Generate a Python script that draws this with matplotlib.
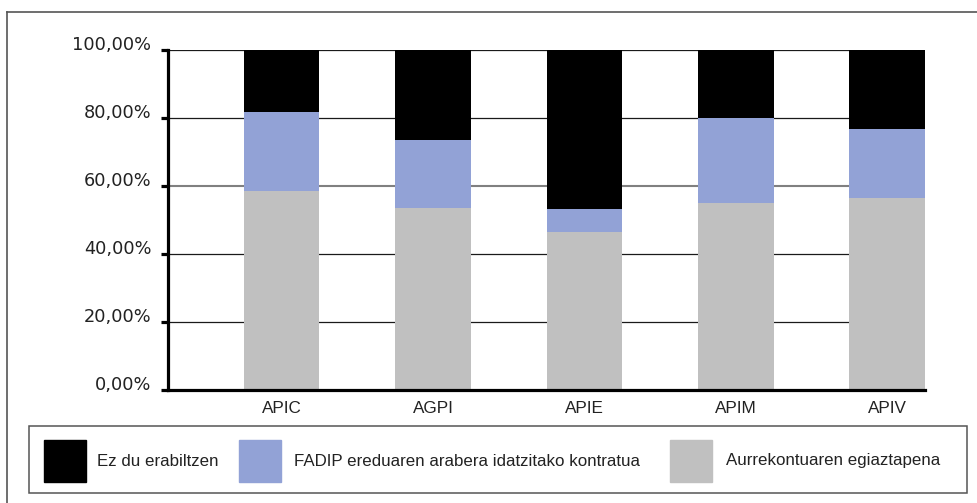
import numpy as np
import matplotlib.pyplot as plt
from matplotlib.patches import Rectangle
from matplotlib.lines import Line2D
from matplotlib.ticker import FuncFormatter

# datuak (irudiaren gainean irakurrita)
categories = ['APIC', 'AGPI', 'APIE', 'APIM', 'APIV']
aurrekontua = np.array([58.4, 53.4, 46.6, 54.9, 56.6])
fadip = np.array([23.4, 20.1, 6.5, 25.0, 20.1])
ez_du = np.array([18.2, 26.5, 46.9, 20.1, 23.3])
names = ['Ez du erabiltzen',
         'FADIP ereduaren arabera idatzitako kontratua',
         'Aurrekontuaren egiaztapena']
colors = ['#000000', '#92a2d6', '#c0c0c0']

W, H = 977, 503
txt_col = '#222222'

def fx(p):
    return p / W

def fy(p):
    return 1 - p / H

fig = plt.figure(figsize=(W / 100, H / 100), dpi=100)
ax = fig.add_axes([fx(168), fy(390), fx(925) - fx(168), fy(50) - fy(390)])

x = np.arange(len(categories))
ax.bar(x, aurrekontua, 0.5, color=colors[2], zorder=3)
ax.bar(x, fadip, 0.5, bottom=aurrekontua, color=colors[1], zorder=3)
ax.bar(x, ez_du, 0.5, bottom=aurrekontua + fadip, color=colors[0], zorder=3)

ax.set_xlim(-0.75, 4.25)
ax.set_ylim(0, 100)
ax.set_yticks(range(0, 101, 20))
ax.yaxis.set_major_formatter(FuncFormatter(lambda v, p: f'{v:.2f}%'.replace('.', ',')))
ax.set_xticks(x)
ax.set_xticklabels(categories, family='Liberation Sans', fontsize=12.3, color=txt_col)

ax.yaxis.grid(True, color='#1a1a1a', lw=0.9, zorder=1)
ax.set_axisbelow(True)
# 60%-ko lerroa grisagoa eta lodiagoa da jatorrizkoan
ax.get_ygridlines()[3].set_color('#808080')
ax.get_ygridlines()[3].set_linewidth(1.5)

for s in ['top', 'right']:
    ax.spines[s].set_visible(False)
for s in ['left', 'bottom']:
    ax.spines[s].set_linewidth(2.3)
    ax.spines[s].set_zorder(4)

ax.tick_params(axis='y', length=5, width=2.3, pad=7, labelsize=12.8, labelcolor=txt_col)
ax.tick_params(axis='x', length=0, pad=8)
for lab in ax.get_yticklabels():
    lab.set_va('baseline')

# kanpoko markoa
fig.add_artist(Line2D([fx(6.5), fx(6.5)], [0, fy(12)], color='#555555', lw=1.2,
                      transform=fig.transFigure))
fig.add_artist(Line2D([fx(6.5), 1], [fy(12), fy(12)], color='#555555', lw=1.2,
                      transform=fig.transFigure))

# legenda
fig.add_artist(Rectangle((fx(29), fy(493)), fx(967) - fx(29), (493 - 426) / H,
                         fill=False, edgecolor='#555555', lw=1.1,
                         transform=fig.transFigure))
patch_x = [44, 239, 670]
text_x = [97, 294, 726]
for px, tx, name, c in zip(patch_x, text_x, names, colors):
    fig.add_artist(Rectangle((fx(px), fy(482)), 42 / W, 42 / H, color=c,
                             transform=fig.transFigure))
    fig.text(fx(tx), fy(461), name, family='Liberation Sans', fontsize=12.2,
             color=txt_col, va='center', ha='left')

fig.savefig('out.png', dpi=100)
